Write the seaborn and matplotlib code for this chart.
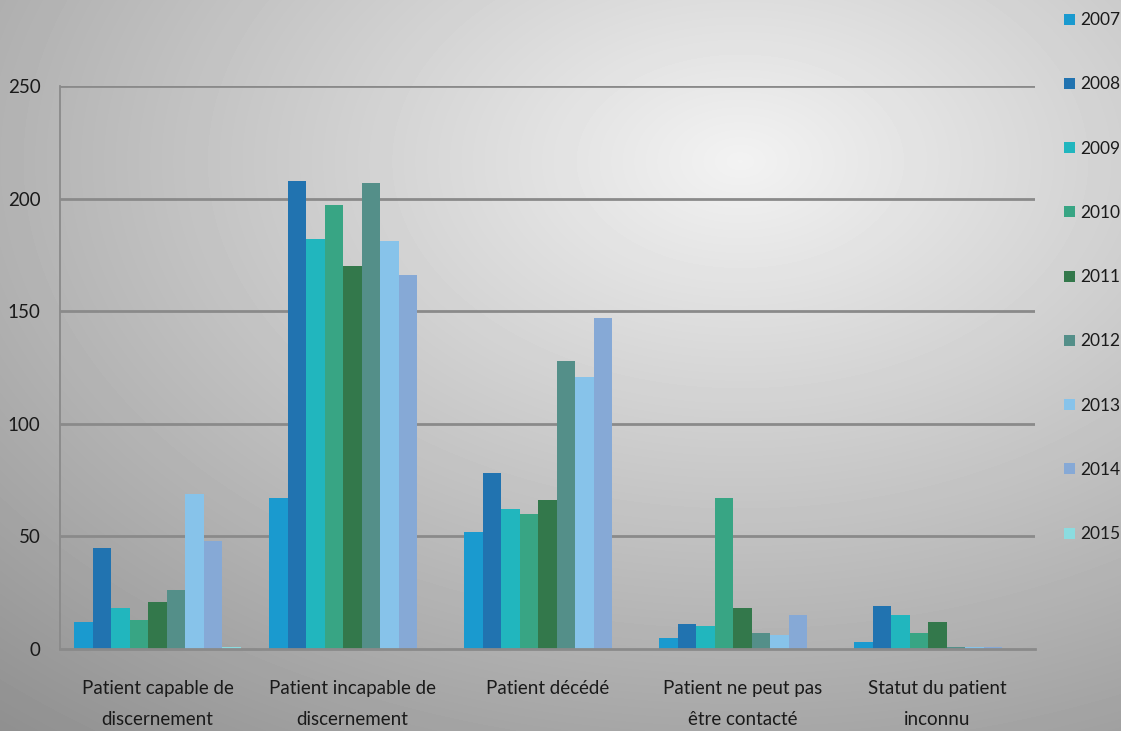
import numpy as np
import pandas as pd
import matplotlib
matplotlib.use("Agg")
import matplotlib.pyplot as plt
import seaborn as sns

categories = [
    "Patient capable de\ndiscernement",
    "Patient incapable de\ndiscernement",
    "Patient décédé",
    "Patient ne peut pas\nêtre contacté",
    "Statut du patient\ninconnu",
]
years = ["2007", "2008", "2009", "2010", "2011", "2012", "2013", "2014", "2015"]

v2007 = [12, 67, 52, 5, 3]
v2008 = [45, 208, 78, 11, 19]
v2009 = [18, 182, 62, 10, 15]
v2010 = [13, 197, 60, 67, 7]
v2011 = [21, 170, 66, 18, 12]
v2012 = [26, 207, 128, 7, 1]
v2013 = [69, 181, 121, 6, 1]
v2014 = [48, 166, 147, 15, 1]
v2015 = [1, 0, 0, 0, 0]

series = [v2007, v2008, v2009, v2010, v2011, v2012, v2013, v2014, v2015]

colors = ["#1a9acf", "#2173b0", "#21b6be", "#38a584", "#33784b",
          "#548f89", "#87c3ea", "#86a9d6", "#8bdce0"]

df = pd.DataFrame(
    [(cat, yr, vals[i]) for yr, vals in zip(years, series) for i, cat in enumerate(categories)],
    columns=["categorie", "annee", "valeur"],
)

sns.set_theme(style="white")
plt.rcParams["font.family"] = ["Lato", "DejaVu Sans"]

fig = plt.figure(figsize=(11.21, 7.31), dpi=100)

# soft grey radial backdrop, light towards the upper right, darker at the left
h, w = 731, 1121
yy, xx = np.mgrid[0:h, 0:w]
cx, cy = 0.66 * w, 0.22 * h
d = np.sqrt(((xx - cx) / w) ** 2 + ((yy - cy) / h) ** 2)
grad = np.clip(0.95 - 0.38 * d, 0, 1)
bg = fig.add_axes([0, 0, 1, 1], zorder=-10)
bg.imshow(grad, cmap="gray", vmin=0, vmax=1, aspect="auto", interpolation="bilinear")
bg.set_axis_off()

ax = fig.add_axes([60 / w, 82 / h, 975 / w, 563 / h])
ax.set_facecolor("none")

sns.barplot(data=df, x="categorie", y="valeur", hue="annee", palette=colors,
            saturation=1, width=0.855, gap=0, dodge=True, edgecolor="none",
            linewidth=0, errorbar=None, ax=ax, zorder=3)

ax.set_ylim(0, 250)
ax.set_xlim(-0.5, 4.5)
ax.set_yticks([0, 50, 100, 150, 200, 250])
ax.set_xlabel("")
ax.set_ylabel("")

grid_col = "#8a8a8a"
for yv in [50, 100, 150, 200, 250]:
    ax.axhline(yv, color=grid_col, lw=2.0, zorder=1)

for s in ["top", "right"]:
    ax.spines[s].set_visible(False)
ax.spines["left"].set_color(grid_col)
ax.spines["left"].set_linewidth(1.3)
ax.spines["bottom"].set_color(grid_col)
ax.spines["bottom"].set_linewidth(2.0)
ax.spines["bottom"].set_zorder(4)

ax.set_xticks(np.arange(-0.5, 5.0, 1.0), minor=True)
ax.tick_params(axis="x", which="major", length=0, pad=22, labelsize=13.5,
               labelcolor="#1a1a1a")
ax.tick_params(axis="x", which="minor", length=8, width=1.3, color=grid_col, direction="out")
ax.tick_params(axis="y", length=5, width=1.3, color=grid_col, direction="out",
               pad=9, labelsize=13.5, labelcolor="#1a1a1a")
for lbl in ax.get_xticklabels():
    lbl.set_linespacing(2.05)

handles, labels = ax.get_legend_handles_labels()
ax.legend(handles, labels, loc="upper left", bbox_to_anchor=(1052 / w, 1.0),
          bbox_transform=fig.transFigure, frameon=False, fontsize=12.5,
          labelspacing=2.78, handlelength=0.6, handleheight=0.6, handletextpad=0.35,
          borderaxespad=0.3, labelcolor="#1a1a1a")

fig.savefig("out.png", dpi=100)
